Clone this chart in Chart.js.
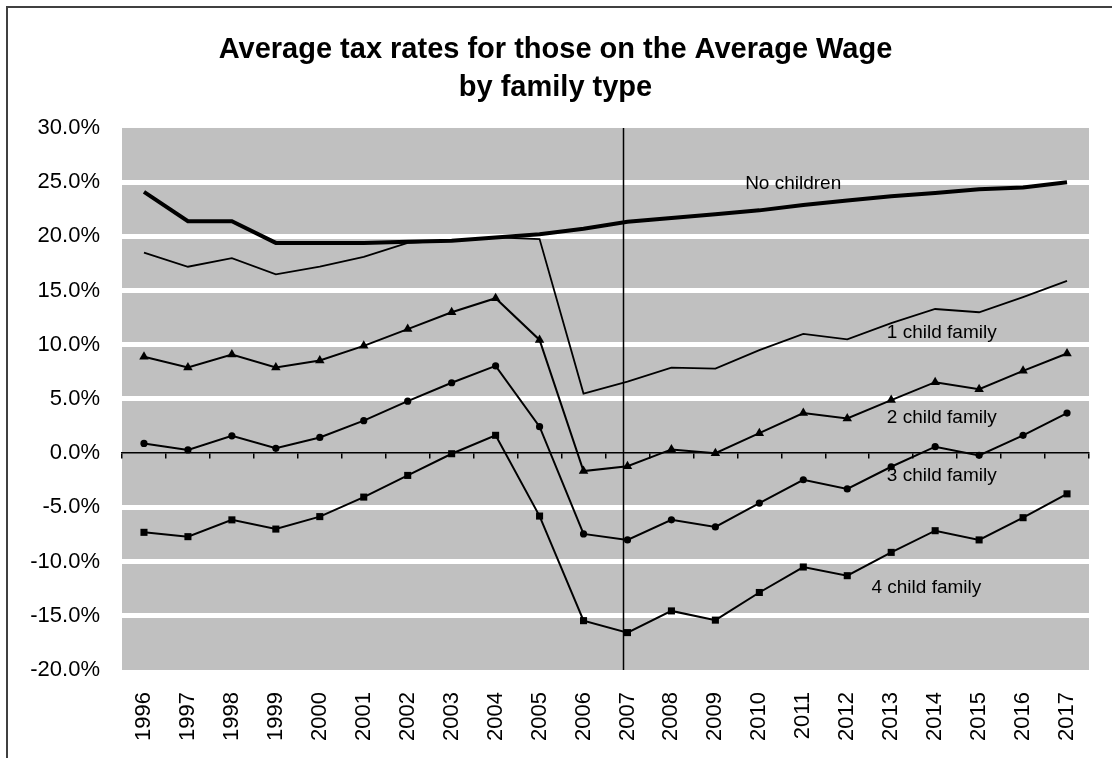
<!DOCTYPE html>
<html>
<head>
<meta charset="utf-8">
<script src="https://cdn.jsdelivr.net/npm/chart.js@4/dist/chart.umd.min.js"></script>
<style>
  html, body { margin: 0; padding: 0; background: #fff; overflow: hidden; }
  #frame {
    position: absolute;
    left: 6px;
    top: 6px;
    border-left: 2px solid #404040;
    border-top: 2px solid #404040;
  }
  #ctx { display: block; }
</style>
</head>
<body>
<div id="frame">
  <canvas id="ctx" width="1110" height="760"></canvas>
</div>
<script>
const ctx = document.getElementById("ctx");

const years = ["1996", "1997", "1998", "1999", "2000", "2001", "2002", "2003", "2004", "2005", "2006",
  "2007", "2008", "2009", "2010", "2011", "2012", "2013", "2014", "2015", "2016", "2017"];

// average tax rate, % of the average wage
const noChildren = [24.1, 21.4, 21.4, 19.4, 19.4, 19.4, 19.5, 19.6, 19.9, 20.2, 20.7,
  21.35, 21.7, 22.05, 22.4, 22.9, 23.3, 23.7, 24.0, 24.35, 24.5, 25.0];
const oneChild = [18.5, 17.2, 18.0, 16.5, 17.2, 18.1, 19.4, 19.6, 19.9, 19.75, 5.5,
  6.6, 7.9, 7.8, 9.5, 11.0, 10.5, 12.0, 13.3, 13.0, 14.4, 15.9];
const twoChild = [8.9, 7.9, 9.1, 7.9, 8.55, 9.9, 11.45, 13.0, 14.3, 10.45, -1.65,
  -1.2, 0.35, 0.0, 1.85, 3.7, 3.2, 4.9, 6.55, 5.9, 7.6, 9.2];
const threeChild = [0.9, 0.3, 1.6, 0.45, 1.45, 3.0, 4.8, 6.5, 8.05, 2.45, -7.45,
  -8.0, -6.15, -6.8, -4.6, -2.45, -3.3, -1.25, 0.6, -0.2, 1.65, 3.7];
const fourChild = [-7.3, -7.7, -6.15, -7.0, -5.85, -4.05, -2.05, -0.05, 1.65, -5.8, -15.45,
  -16.55, -14.55, -15.4, -12.85, -10.5, -11.3, -9.15, -7.15, -8.0, -5.95, -3.75];

const yTicks = [30, 25, 20, 15, 10, 5, 0, -5, -10, -15, -20];

// series labels written inside the plot: [text, category index, value]
const seriesLabels = [
  ["No children", 14.77, 24.85],
  ["1 child family", 18.15, 11.1],
  ["2 child family", 18.15, 3.25],
  ["3 child family", 18.15, -2.1],
  ["4 child family", 17.8, -12.45],
];

// reform year marker, a little before the 2007 category centre
const dividerAt = 10.89;

const font = "'Liberation Sans', Arial, sans-serif";

const plotBackground = {
  id: "plotBackground",
  beforeDraw(chart) {
    const a = chart.chartArea;
    const c = chart.ctx;
    c.save();
    c.fillStyle = "#c0c0c0";
    c.fillRect(a.left, a.top, a.right - a.left, a.bottom - a.top);
    c.restore();
  },
};

const notes = {
  id: "notes",
  afterDatasetsDraw(chart) {
    const a = chart.chartArea;
    const c = chart.ctx;
    const x = chart.scales.x;
    const y = chart.scales.y;
    c.save();
    const px = Math.round(x.getPixelForValue(dividerAt)) + 0.5;
    c.strokeStyle = "#000";
    c.lineWidth = 1.5;
    c.beginPath();
    c.moveTo(px, a.top);
    c.lineTo(px, a.bottom);
    c.stroke();

    c.fillStyle = "#000";
    c.font = "19px " + font;
    c.textAlign = "center";
    c.textBaseline = "middle";
    seriesLabels.forEach(function (l) {
      c.fillText(l[0], x.getPixelForValue(l[1]), y.getPixelForValue(l[2]));
    });
    c.restore();
  },
};

function series(label, data, width, style, radius) {
  return {
    label: label,
    data: data,
    borderColor: "#000",
    backgroundColor: "#000",
    borderWidth: width,
    pointStyle: style,
    pointRadius: style ? radius : 0,
    pointBorderWidth: 0,
    pointBackgroundColor: "#000",
    tension: 0,
    clip: false,
  };
}

new Chart(ctx, {
  type: "line",
  data: {
    labels: years,
    datasets: [
      series("4 child family", fourChild, 2, "rect", 5),
      series("3 child family", threeChild, 2, "circle", 3.6),
      series("2 child family", twoChild, 2, "triangle", 5.5),
      series("1 child family", oneChild, 1.8, false, 0),
      series("No children", noChildren, 4, false, 0),
    ],
  },
  options: {
    responsive: false,
    animation: false,
    devicePixelRatio: 1,
    layout: { padding: { left: 14, right: 29, top: 0, bottom: 0 } },
    plugins: {
      legend: { display: false },
      tooltip: { enabled: false },
      title: {
        display: true,
        text: ["Average tax rates for those on the Average Wage", "by family type"],
        color: "#000",
        font: { family: font, size: 29, weight: "bold", lineHeight: 1.31 },
        padding: { top: 23, bottom: 21 },
      },
    },
    scales: {
      x: {
        type: "category",
        offset: true,
        grid: { display: false, drawTicks: false },
        border: { display: false },
        ticks: {
          color: "#000",
          font: { family: font, size: 22 },
          maxRotation: 90,
          minRotation: 90,
          padding: 22,
          autoSkip: false,
        },
        afterFit(scale) {
          scale.height = 98;
        },
      },
      zeroAxis: {
        type: "category",
        axis: "x",
        labels: years,
        offset: true,
        position: { y: 0 },
        grid: {
          offset: true,
          drawOnChartArea: false,
          drawTicks: true,
          tickLength: 5,
          color: "#000",
          lineWidth: 1.5,
        },
        border: { display: true, color: "#000", width: 1.5 },
        ticks: { display: false },
      },
      y: {
        min: -20,
        max: 30,
        afterBuildTicks(scale) {
          scale.ticks = yTicks.map(function (v) { return { value: v }; });
        },
        grid: {
          drawTicks: false,
          lineWidth: 5,
          color(c) {
            const v = c.tick.value;
            return v === 0 || v === 30 || v === -20 ? "rgba(0,0,0,0)" : "#ffffff";
          },
        },
        border: { display: false },
        ticks: {
          color: "#000",
          font: { family: font, size: 22 },
          padding: 22,
          callback(v) {
            return v.toFixed(1) + "%";
          },
        },
        afterFit(scale) {
          scale.width = 100;
        },
      },
    },
  },
  plugins: [plotBackground, notes],
});
</script>
</body>
</html>
